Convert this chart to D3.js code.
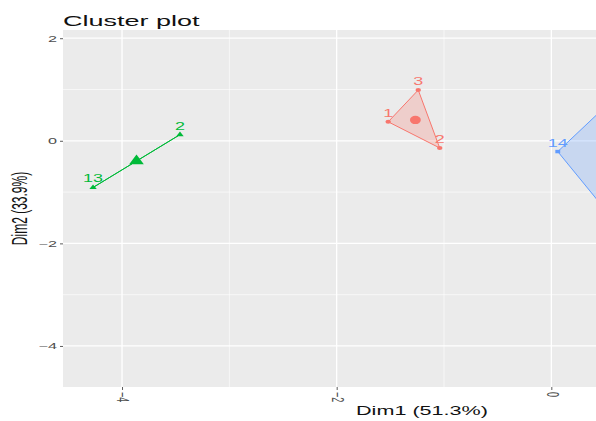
<!DOCTYPE html>
<html>
<head>
<meta charset="utf-8">
<script src="https://cdn.jsdelivr.net/npm/d3@7"></script>
<style>
  body { margin: 0; background: #fff; }
  svg { display: block; font-family: "Liberation Sans", Arial, sans-serif; }
</style>
</head>
<body>
<svg id="chart"></svg>
<script>
// data
var pointNames = ['1', '3', '2', '2', '13', '14', '9', '11', '7'],
    pointCluster = [1, 1, 1, 2, 2, 3, 3, 3, 3],
    dim1 = [-1.52, -1.24, -1.04, -3.46, -4.27, 0.06, 0.9, 1.8, 0.7],
    dim2 = [0.37, 0.99, -0.14, 0.12, -0.91, -0.21, 1.45, 0.1, -1.85];
var clusterIds = [1, 2, 3],
    clusterColors = ['#F8766D', '#00BA38', '#619CFF'];
var xTicks = [-4, -2, 0, 2],
    yTicks = [2, 0, -2, -4],
    xMinor = [-3, -1, 1],
    yMinor = [1, -1, -3];

//UI configuration
var width = 596,
    height = 421,
    stretch = 1.8, // the picture is squeezed wide, text too
    panel = { left: 63, right: 781, top: 30, bottom: 387 };

var svg = d3.select('#chart').attr('width', width).attr('height', height);

var x = d3.scaleLinear().domain([-4.55, 2.14]).range([panel.left, panel.right]);
var y = d3.scaleLinear().domain([-4.8, 2.16]).range([panel.bottom, panel.top]);
var color = d3.scaleOrdinal().domain(clusterIds).range(clusterColors);

var points = pointNames.map(function (n, i) {
    return { name: n, cluster: pointCluster[i], x: dim1[i], y: dim2[i] };
});

function wideText(px, py, extra) {
    return 'translate(' + px + ',' + py + ') scale(' + stretch + ',1)' + (extra || '');
}

svg.append('clipPath').attr('id', 'clip')
    .append('rect')
    .attr('x', panel.left).attr('y', panel.top)
    .attr('width', panel.right - panel.left).attr('height', panel.bottom - panel.top);

// panel background
svg.append('rect')
    .attr('x', panel.left).attr('y', panel.top)
    .attr('width', panel.right - panel.left).attr('height', panel.bottom - panel.top)
    .attr('fill', '#EBEBEB');

var grid = svg.append('g').attr('clip-path', 'url(#clip)');
grid.selectAll('.vminor').data(xMinor).enter().append('line')
    .attr('x1', x).attr('x2', x).attr('y1', panel.top).attr('y2', panel.bottom)
    .attr('stroke', '#fff').attr('stroke-width', 0.6);
grid.selectAll('.hminor').data(yMinor).enter().append('line')
    .attr('y1', y).attr('y2', y).attr('x1', panel.left).attr('x2', panel.right)
    .attr('stroke', '#fff').attr('stroke-width', 0.6);
grid.selectAll('.vmajor').data(xTicks).enter().append('line')
    .attr('x1', x).attr('x2', x).attr('y1', panel.top).attr('y2', panel.bottom)
    .attr('stroke', '#fff').attr('stroke-width', 1.3);
grid.selectAll('.hmajor').data(yTicks).enter().append('line')
    .attr('y1', y).attr('y2', y).attr('x1', panel.left).attr('x2', panel.right)
    .attr('stroke', '#fff').attr('stroke-width', 1.3);

var plot = svg.append('g').attr('clip-path', 'url(#clip)');
var shapes = [d3.symbolCircle, d3.symbolTriangle, d3.symbolSquare];

// cluster hulls and centroids
clusterIds.forEach(function (c) {
    var pts = points.filter(function (d) { return d.cluster === c; });
    var xy = pts.map(function (d) { return [x(d.x), y(d.y)]; });
    var hull = xy.length > 2 ? d3.polygonHull(xy) : xy;
    plot.append('path')
        .attr('d', 'M' + hull.join('L') + 'Z')
        .attr('fill', color(c)).attr('fill-opacity', 0.25)
        .attr('stroke', color(c)).attr('stroke-width', 1);

    var cx = d3.mean(pts, function (d) { return d.x; }),
        cy = d3.mean(pts, function (d) { return d.y; });
    plot.append('path')
        .attr('d', d3.symbol().type(shapes[c - 1]).size(55))
        .attr('transform', 'translate(' + x(cx) + ',' + y(cy) + ') scale(1.3,1)')
        .attr('fill', color(c));
});

// points and labels
plot.selectAll('.pt').data(points).enter().append('path')
    .attr('d', function (d) { return d3.symbol().type(shapes[d.cluster - 1]).size(12)(); })
    .attr('transform', function (d) { return 'translate(' + x(d.x) + ',' + y(d.y) + ') scale(1.4,1)'; })
    .attr('fill', function (d) { return color(d.cluster); });

plot.selectAll('.lbl')
    .data(points.filter(function (d) { return x(d.x) < width - 20; }))
    .enter().append('text')
    .attr('transform', function (d) { return wideText(x(d.x), y(d.y) - 5); })
    .attr('text-anchor', 'middle')
    .attr('font-size', 10)
    .attr('fill', function (d) { return color(d.cluster); })
    .text(function (d) { return d.name; });

// axes
var xAxis = svg.append('g')
    .attr('transform', 'translate(0,' + panel.bottom + ')')
    .call(d3.axisBottom(x).tickValues(xTicks.filter(function (t) { return x(t) < width; }))
        .tickSize(3).tickPadding(2).tickFormat(d3.format('d')));
xAxis.selectAll('text')
    .attr('transform', 'scale(' + stretch + ',1) rotate(90)')
    .attr('text-anchor', 'start')
    .attr('x', 5).attr('y', 0).attr('dy', '0.32em');

var yAxis = svg.append('g')
    .attr('transform', 'translate(' + panel.left + ',0)')
    .call(d3.axisLeft(y).tickValues(yTicks).tickSize(3).tickPadding(3).tickFormat(d3.format('d')));
yAxis.selectAll('text')
    .attr('transform', 'scale(' + stretch + ',1)')
    .attr('x', -6 / stretch);

svg.selectAll('.domain').remove();
svg.selectAll('.tick line').attr('stroke', '#333').attr('stroke-width', 0.8);
svg.selectAll('.tick text')
    .attr('fill', '#4D4D4D')
    .attr('font-size', 9)
    .attr('font-family', '"Liberation Sans", Arial, sans-serif');

// titles
svg.append('text')
    .attr('transform', wideText(panel.left, 26))
    .attr('font-size', 15)
    .attr('fill', '#111')
    .text('Cluster plot');

svg.append('text')
    .attr('transform', wideText((panel.left + panel.right) / 2, 415))
    .attr('text-anchor', 'middle')
    .attr('font-size', 12)
    .attr('fill', '#111')
    .text('Dim1 (51.3%)');

svg.append('text')
    .attr('transform', wideText(27, (panel.top + panel.bottom) / 2, ' rotate(-90)'))
    .attr('text-anchor', 'middle')
    .attr('font-size', 12)
    .attr('fill', '#111')
    .text('Dim2 (33.9%)');
</script>
</body>
</html>
